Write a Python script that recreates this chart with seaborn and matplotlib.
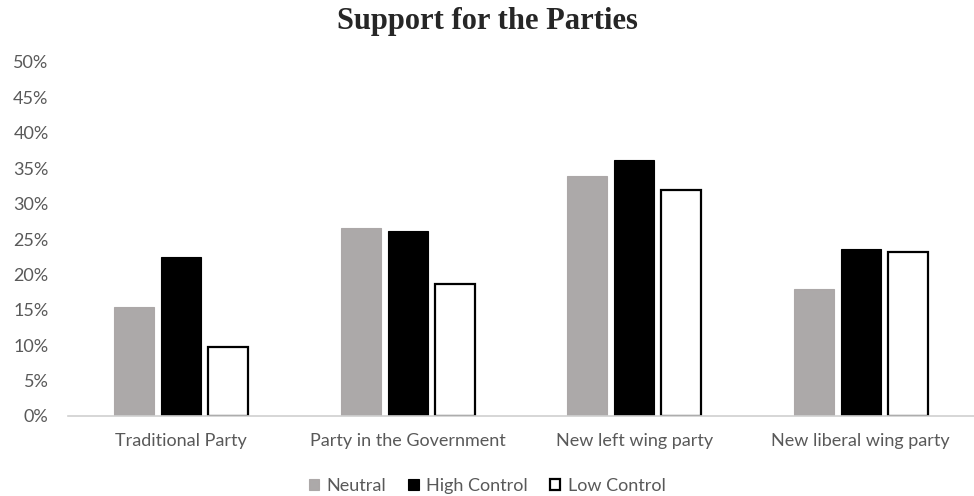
import pandas as pd
import seaborn as sns
import matplotlib.pyplot as plt
from matplotlib.ticker import PercentFormatter

# values (share of support)
parties = ['Traditional Party', 'Party in the Government', 'New left wing party', 'New liberal wing party']
conditions = ['Neutral', 'High Control', 'Low Control']
neutral = [0.154, 0.266, 0.339, 0.179]
high_control = [0.225, 0.262, 0.361, 0.236]
low_control = [0.098, 0.186, 0.319, 0.231]

colors = {'Neutral': '#aca8a8', 'High Control': '#000000', 'Low Control': '#ffffff'}
edges = {'Neutral': '#aca8a8', 'High Control': '#000000', 'Low Control': '#000000'}

df = pd.DataFrame({
    'party': parties * 3,
    'condition': [c for c in conditions for _ in parties],
    'support': neutral + high_control + low_control,
})

sns.set_style('white')
plt.rcParams['font.family'] = ['Lato', 'DejaVu Sans']

fig = plt.figure(figsize=(9.74, 4.96), dpi=100)
ax = fig.add_axes([68 / 974, 1 - 416 / 496, 1 - 68 / 974, (416 - 62) / 496])

sns.barplot(data=df, x='party', y='support', hue='condition', order=parties,
            hue_order=conditions, palette=colors, width=0.625, gap=0.15,
            legend=False, ax=ax)

for cond, cont in zip(conditions, ax.containers):
    for bar in cont:
        bar.set_edgecolor(edges[cond])
        bar.set_linewidth(1.6 if cond == 'Low Control' else 0.8)

ax.set_ylim(0, 0.5)
ax.set_yticks([i * 0.05 for i in range(11)])
ax.yaxis.set_major_formatter(PercentFormatter(1.0, decimals=0))
ax.set_xlabel('')
ax.set_ylabel('')
ax.tick_params(axis='both', colors='#595959', labelsize=13, length=0)
ax.tick_params(axis='y', pad=14)
ax.tick_params(axis='x', pad=12)

for side in ['left', 'right', 'top']:
    ax.spines[side].set_visible(False)
ax.spines['bottom'].set_color('#d0d0d0')
ax.spines['bottom'].set_linewidth(1.2)

handles = [cont[0] for cont in ax.containers]
leg = fig.legend(handles, conditions, loc='center', bbox_to_anchor=(0.5, 1 - 486 / 496),
                 ncol=3, frameon=False, fontsize=13, handlelength=0.6, handleheight=0.6,
                 handletextpad=0.4, columnspacing=1.2)
for t in leg.get_texts():
    t.set_color('#595959')

fig.text(0.5, 1 - 22 / 496, 'Support for the Parties', ha='center', va='center',
         fontsize=22, fontweight='bold', family='Liberation Serif')

fig.savefig('out.png', dpi=100)
